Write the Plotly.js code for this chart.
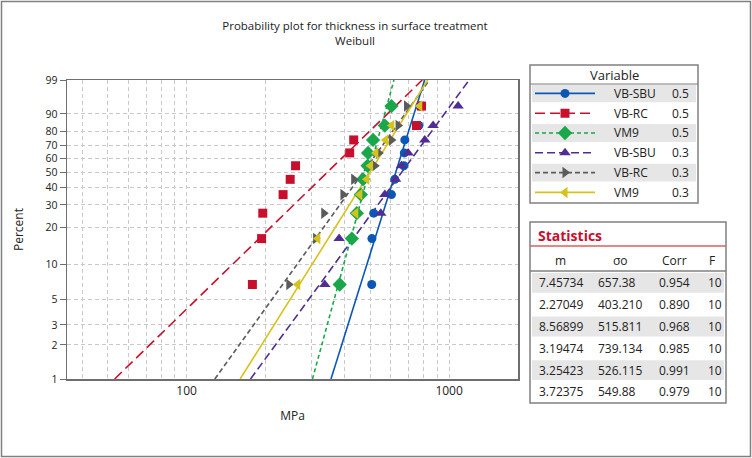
<!DOCTYPE html>
<html><head><meta charset="utf-8">
<script src="https://cdn.plot.ly/plotly-3.0.1.min.js"></script>
<style>html,body{margin:0;padding:0;background:#fff;} #chart{width:752px;height:458px;}</style>
</head><body><div id="chart"></div>
<script>
// ---------- data ----------
const seriesNames = ["VB-SBU","VB-RC","VM9","VB-SBU","VB-RC","VM9"];
const seriesLevels = ["0.5","0.5","0.5","0.3","0.3","0.3"];
const percents = [6.73,16.35,25.96,35.58,45.19,54.81,64.42,74.04,83.65,93.27];
const vbsbu05 = [507,508,516,603,621,672,675,678,767,773];
const vbrc05  = [178,193,195,233,248,260,418,433,751,785];
const vm905   = [383,426,445,461,470,489,491,513,569,603];
const vbsbu03 = [336,381,549,569,625,658,698,808,869,1082];
const vbrc03  = [245,310,333,394,433,521,540,603,639,688];
const vm903   = [265,316,441,457,486,502,526,574,605,773];
const statM     = ["7.45734","2.27049","8.56899","3.19474","3.25423","3.72375"];
const statSigma = ["657.38","403.210","515.811","739.134","526.115","549.88"];
const statCorr  = ["0.954","0.890","0.968","0.985","0.991","0.979"];
const statF     = ["10","10","10","10","10","10"];
const yTickPercents = [1,2,3,5,10,20,30,40,50,60,70,80,90,99];
const xGridVals = [40,50,60,70,80,90,100,200,300,400,500,600,700,800,900,1000];
const xLabelled = [100,1000];

// ---------- styles ----------
const seriesValues = [vbsbu05,vbrc05,vm905,vbsbu03,vbrc03,vm903];
const colors  = ["#0b57b5","#c8102e","#1aa64b","#4f2d94","#5b5b5b","#d6c21c"];
const symbols = ["circle","square","diamond","triangle-up","triangle-right","triangle-left"];
const sizes   = [9,9,11,10,10,10];
const dashes  = ["solid","10px,5px","4px,3px","8px,4px","5px,3px","solid"];
const W = 752, H = 458;
const PX = p => p / W, PY = p => 1 - p / H;
const wb = p => Math.log(-Math.log(1 - p / 100));
const FONT = "Open Sans";
const TXT = "#222";

const traces = [];
// fitted lines (from m and sigma0)
seriesValues.forEach((vals, i) => {
  const m = parseFloat(statM[i]), s = parseFloat(statSigma[i]);
  const yy = [wb(1), wb(99)];
  traces.push({x: yy.map(y => s * Math.exp(y / m)), y: yy, mode: "lines", xaxis: "x", yaxis: "y",
    line: {color: colors[i], width: 1.6, dash: dashes[i]}, hoverinfo: "skip", showlegend: false});
});
// data points
seriesValues.forEach((vals, i) => {
  traces.push({x: vals, y: percents.map(wb), mode: "markers", xaxis: "x", yaxis: "y",
    marker: {color: colors[i], symbol: symbols[i], size: sizes[i], line: {width: 0}},
    name: seriesNames[i] + " " + seriesLevels[i], showlegend: false});
});
// legend glyphs
seriesNames.forEach((n, i) => {
  traces.push({x: [0, 1], y: [i + 0.5, i + 0.5], mode: "lines", xaxis: "x2", yaxis: "y2",
    line: {color: colors[i], width: 1.6, dash: dashes[i]}, hoverinfo: "skip", showlegend: false});
  traces.push({x: [0.5], y: [i + 0.5], mode: "markers", xaxis: "x2", yaxis: "y2",
    marker: {color: colors[i], symbol: symbols[i], size: sizes[i]}, hoverinfo: "skip", showlegend: false});
});

const shapes = [];
const annotations = [];
const rect = (x0, y0, x1, y1, opt) => Object.assign({type: "rect", xref: "paper", yref: "paper",
  x0: PX(x0), x1: PX(x1), y0: PY(y1), y1: PY(y0)}, opt);
const hline = (x0, x1, y, color, w) => ({type: "line", xref: "paper", yref: "paper",
  x0: PX(x0), x1: PX(x1), y0: PY(y), y1: PY(y), line: {color: color, width: w}});
const txt = (text, x, y, anchor, opt) => Object.assign({text: text, xref: "paper", yref: "paper",
  x: PX(x), y: PY(y), xanchor: anchor, yanchor: "middle", showarrow: false,
  font: {family: FONT, size: 12, color: TXT}}, opt);

// outer frame
shapes.push(rect(1.5, 1.5, 750.5, 456.5, {line: {color: "#808080", width: 1.5}}));

// legend box
const lgTop = 83.5, lgRow = 19.8;
seriesNames.forEach((n, i) => {
  if (i % 2 === 0) shapes.push(rect(532, lgTop + i * lgRow + 1, 696, lgTop + (i + 1) * lgRow - 1,
    {fillcolor: "#e6e6e6", line: {width: 0}, layer: "below"}));
  annotations.push(txt(n, 612, lgTop + (i + 0.5) * lgRow, "left"));
  annotations.push(txt(seriesLevels[i], 670, lgTop + (i + 0.5) * lgRow, "left"));
});
shapes.push(rect(530, 65, 698, 203, {line: {color: "#808080", width: 1.5}}));
shapes.push(hline(530, 698, 84, "#808080", 1.2));
annotations.push(txt("Variable", 614, 75, "center", {font: {family: FONT, size: 13, color: TXT}}));

// statistics table
const stTop = 272, stRow = 21.8;
statM.forEach((v, i) => {
  const yc = stTop + (i + 0.5) * stRow;
  if (i % 2 === 0) shapes.push(rect(532, stTop + i * stRow + 1, 724, stTop + (i + 1) * stRow - 1,
    {fillcolor: "#e6e6e6", line: {width: 0}, layer: "below"}));
  annotations.push(txt(v, 537, yc, "left"));
  annotations.push(txt(statSigma[i], 596, yc, "left"));
  annotations.push(txt(statCorr[i], 657, yc, "left"));
  annotations.push(txt(statF[i], 706, yc, "left"));
});
shapes.push(rect(530, 222, 726, 403, {line: {color: "#808080", width: 1.5}}));
shapes.push(hline(530, 726, 246, "#d9605f", 1.5));
shapes.push(hline(530, 726, 271, "#808080", 1.5));
annotations.push(txt("<b>Statistics</b>", 536, 235, "left", {font: {family: FONT, size: 14, color: "#c8102e"}}));
annotations.push(txt("m", 560, 260, "center"));
annotations.push(txt("σo", 620, 260, "center"));
annotations.push(txt("Corr", 674, 260, "center"));
annotations.push(txt("F", 712, 260, "center"));

const gridCol = "#c9c9c9", axCol = "#6e6e6e";
const layout = {
  width: W, height: H,
  margin: {l: 0, r: 0, t: 0, b: 0},
  paper_bgcolor: "#fff", plot_bgcolor: "rgba(0,0,0,0)",
  font: {family: FONT, size: 12, color: TXT},
  showlegend: false,
  title: {text: "Probability plot for thickness in surface treatment<br>Weibull",
    x: 355 / W, xanchor: "center", y: 1 - 30 / H, yanchor: "top",
    font: {family: FONT, size: 11.5, color: TXT}},
  xaxis: {type: "log", domain: [PX(67), PX(518)], range: [Math.log10(35), Math.log10(1830)],
    tickmode: "array", tickvals: xGridVals, ticktext: xGridVals.map(v => xLabelled.includes(v) ? String(v) : ""),
    ticks: "", showgrid: true, gridcolor: gridCol, griddash: "4px,3px", gridwidth: 1,
    showline: true, linecolor: axCol, linewidth: 1.5, mirror: true, zeroline: false,
    tickfont: {family: FONT, size: 12, color: TXT},
    title: {text: "MPa", standoff: 13, font: {family: FONT, size: 12, color: TXT}}},
  yaxis: {domain: [PY(379), PY(80)], range: [wb(1), wb(99)],
    tickmode: "array", tickvals: yTickPercents.map(wb), ticktext: yTickPercents.map(String),
    ticks: "outside", ticklen: 6, tickcolor: axCol, tickwidth: 1,
    showgrid: true, gridcolor: gridCol, griddash: "4px,3px", gridwidth: 1,
    showline: true, linecolor: axCol, linewidth: 1.5, mirror: true, zeroline: false,
    tickfont: {family: FONT, size: 10.5, color: TXT},
    title: {text: "Percent", standoff: 19, font: {family: FONT, size: 12, color: TXT}}},
  xaxis2: {domain: [PX(535), PX(595)], range: [0, 1], visible: false, fixedrange: true},
  yaxis2: {domain: [PY(lgTop + 6 * lgRow), PY(lgTop)], range: [6, 0], visible: false, fixedrange: true},
  shapes: shapes, annotations: annotations
};
Plotly.newPlot("chart", traces, layout, {displayModeBar: false, staticPlot: true});
</script></body></html>
